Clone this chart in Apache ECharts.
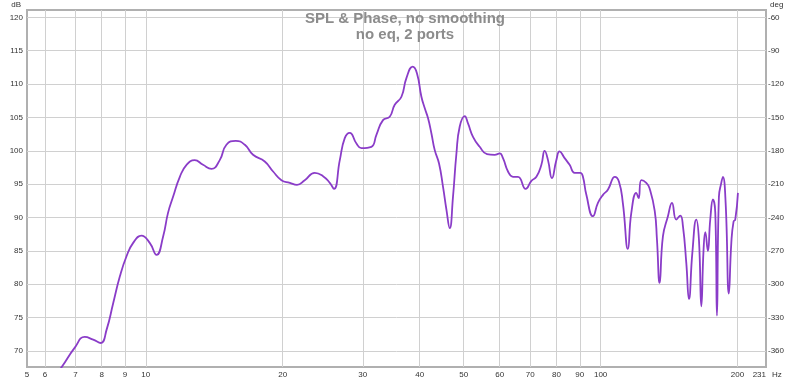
<!DOCTYPE html>
<html><head><meta charset="utf-8">
<script src="https://cdn.jsdelivr.net/npm/echarts@6/dist/echarts.min.js"></script>
<style>html,body{margin:0;padding:0;background:#fff}#c{width:800px;height:382px}</style>
</head><body><div id="c"></div>
<script>
// Frequencies (Hz) and SPL (dB)
const freqHz = [6.35,6.55,6.98,7.34,7.66,7.96,8.20,8.48,8.77,9.07,
  9.38,9.78,10.2,10.56,10.92,11.19,11.48,11.88,12.29,12.81,
  13.36,13.94,14.54,15.04,15.77,16.51,17.21,18.26,19.05,19.87,
  20.73,21.50,22.36,23.52,24.53,25.38,25.93,26.70,27.38,28.08,
  29.05,29.79,31.33,32.14,33.23,34.38,35.26,36.48,37.41,38.62,
  39.47,40.36,41.04,41.73,42.46,43.18,44.13,45.03,45.81,46.58,
  47.36,48.19,48.99,50.25,51.10,52.41,54.22,56.25,58.48,59.98,
  61.0,62.57,64.17,65.81,68.43,70.43,72.24,74.09,75.33,76.61,
  78.16,79.91,81.26,83.34,85.48,87.67,90.23,91.43,93.03,96.18,
  98.65,101.2,103.8,106.4,107.4,109.7,111.9,114.8,116.8,119.8,
  121.2,122.9,126.0,128.1,131.5,133.0,134.8,137.1,140.6,143.5,
  146.7,149.7,151.7,154.3,156.4,159.1,162.3,164.5,166.5,168.4,
  169.9,172.1,174.2,176.6,178.7,180.2,182.0,184.2,185.7,188.3,
  191.4,193.8,196.0,197.7,200.4];
const splDb = [66.4,67.7,70.5,72.1,71.7,71.2,73.2,77.2,81.2,84.2,
  86.2,87.3,86.2,84.4,87.2,90.7,93.1,96.1,97.9,98.6,
  97.9,97.3,98.6,100.9,101.5,100.9,99.4,98.4,96.9,95.6,
  95.2,94.9,95.6,96.7,96.2,95.2,94.3,98.6,101.9,102.7,
  101.1,100.4,100.6,102.4,104.6,105.1,106.9,108.1,110.9,112.6,
  111.6,108.1,106.4,104.9,102.6,100.1,98.1,94.6,91.2,88.4,
  93.1,99.6,103.6,105.2,104.1,102.1,100.6,99.5,99.4,99.6,
  98.9,96.9,96.1,96.1,94.3,95.5,96.1,97.9,100.0,98.6,
  95.9,98.6,99.9,98.9,97.9,96.7,96.7,96.1,93.4,90.2,
  92.2,93.4,94.2,95.9,96.1,95.4,92.2,85.3,90.7,93.7,
  92.9,95.6,95.2,94.4,91.0,86.7,80.2,87.2,90.2,92.2,
  89.7,90.3,88.7,83.2,77.8,84.7,89.7,86.7,76.7,85.2,
  87.8,85.0,89.7,92.7,90.7,75.3,93.1,95.2,96.1,92.2,
  78.6,86.2,89.4,89.7,93.7];

// Axis ranges and tick labels
const xMinHz = 5.48, xMaxHz = 231;
const xGridHz = [6,7,8,9,10,20,30,40,50,60,70,80,90,100,200];
const xLabelHz = [5.48,6,7,8,9,10,20,30,40,50,60,70,80,90,100,200,231];
const xLabelText = ['5','6','7','8','9','10','20','30','40','50','60','70','80','90','100','200','231'];
const yMinDb = 67.6, yMaxDb = 121.1;
const yTicksDb = [70,75,80,85,90,95,100,105,110,115,120];
const yTicksDeg = [-360,-330,-300,-270,-240,-210,-180,-150,-120,-90,-60];
const degAt = db => -60 + (db - 120) * 6;

const lg = Math.log10;
const seriesData = freqHz.map((f, i) => [lg(f), splDb[i]]);
const labFont = { fontFamily: 'Liberation Sans, Arial, sans-serif', fontSize: 8, color: '#333' };

const chart = echarts.init(document.getElementById('c'), null, { renderer: 'canvas' });
chart.setOption({
  animation: false,
  backgroundColor: '#fff',
  title: {
    text: 'SPL & Phase, no smoothing\nno eq, 2 ports',
    left: 400, top: 6,
    textAlign: 'center',
    textStyle: { fontFamily: 'Liberation Sans, Arial, sans-serif', fontSize: 15, fontWeight: 'bold', color: '#8c8c8c', lineHeight: 16 }
  },
  grid: { left: 27, right: 34, top: 10, bottom: 15, show: true, borderColor: '#b0b0b0', borderWidth: 2, backgroundColor: 'transparent' },
  xAxis: {
    type: 'value', min: lg(xMinHz), max: lg(xMaxHz),
    name: 'Hz', nameLocation: 'end', nameGap: 3,
    nameTextStyle: Object.assign({}, labFont, { verticalAlign: 'top', padding: [4, 0, 0, 0] }),
    axisLine: { show: false },
    axisTick: { show: false, customValues: xGridHz.map(lg) },
    splitLine: { show: true, lineStyle: { color: '#d0d0d0', width: 1 } },
    axisLabel: Object.assign({}, labFont, {
      margin: 4,
      customValues: xLabelHz.map(lg),
      alignMaxLabel: 'right',
      formatter: v => { const i = xLabelHz.findIndex(h => Math.abs(lg(h) - v) < 1e-6); return i >= 0 ? xLabelText[i] : ''; }
    })
  },
  yAxis: [{
    type: 'value', min: yMinDb, max: yMaxDb, position: 'left',
    name: 'dB', nameLocation: 'end', nameGap: 5,
    nameTextStyle: Object.assign({}, labFont, { align: 'right', verticalAlign: 'middle', padding: [0, 6, 0, 0] }),
    axisLine: { show: false },
    axisTick: { show: false, customValues: yTicksDb },
    splitLine: { show: true, lineStyle: { color: '#d0d0d0', width: 1 } },
    axisLabel: Object.assign({}, labFont, { margin: 4, customValues: yTicksDb, formatter: v => String(Math.round(v)) })
  }, {
    type: 'value', min: degAt(yMinDb), max: degAt(yMaxDb), position: 'right',
    name: 'deg', nameLocation: 'end', nameGap: 5,
    nameTextStyle: Object.assign({}, labFont, { align: 'left', verticalAlign: 'middle', padding: [0, 0, 0, 4] }),
    axisLine: { show: false },
    axisTick: { show: false, customValues: yTicksDeg },
    splitLine: { show: false },
    axisLabel: Object.assign({}, labFont, { margin: 2, customValues: yTicksDeg, formatter: v => String(Math.round(v)) })
  }],
  series: [{
    type: 'line', yAxisIndex: 0, data: seriesData,
    showSymbol: false, symbol: 'none', smooth: 0.5, clip: true,
    lineStyle: { color: '#8a3cc8', width: 1.8 }
  }]
});
</script></body></html>
